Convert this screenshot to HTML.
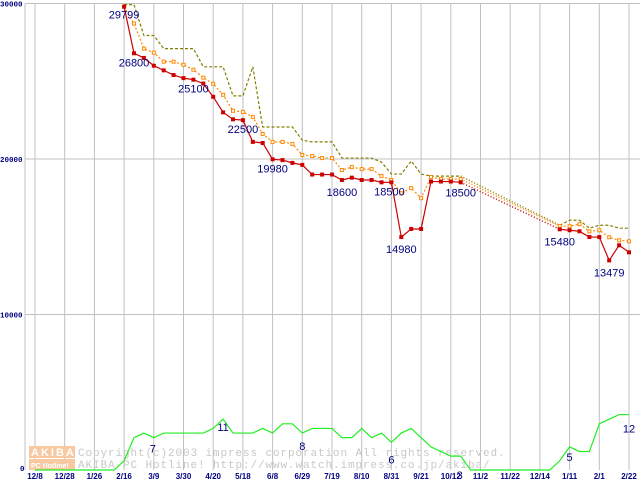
<!DOCTYPE html>
<html><head><meta charset="utf-8"><style>
html,body{margin:0;padding:0;background:#fff;}
svg{display:block;font-family:"Liberation Sans",sans-serif;}
</style></head><body>
<svg id="chart" width="640" height="480" viewBox="0 0 640 480" xmlns="http://www.w3.org/2000/svg">
<rect x="0" y="0" width="640" height="480" fill="#fff"/>
<g id="grid"></g>
<g id="watermark">
  <rect x="29" y="446" width="46" height="12" fill="#f8c8a0"/>
  <rect x="29" y="459" width="46" height="11" fill="#f8c8a0"/>
  <text x="31" y="456" font-size="11" fill="#fff" font-weight="bold" letter-spacing="2">AKIBA</text>
  <text x="31" y="468" font-size="7" fill="#fff" font-weight="bold">PC Hotline!</text>
  <text x="78" y="456" font-size="11" fill="#c8c8c8" font-family="Liberation Mono, monospace" letter-spacing="0.9">Copyright(c)2003 impress corporation All rights reserved.</text>
  <text x="78" y="468" font-size="11" fill="#c8c8c8" font-family="Liberation Mono, monospace" letter-spacing="0.9">AKIBA PC Hotline!  http://www.watch.impress.co.jp/akiba/</text>
</g>
<g id="series"></g>
<g id="labels"></g>
</svg>
<script>
const xTickLabels = ["12/8","12/28","1/26","2/16","3/9","3/30","4/20","5/18","6/8","6/29","7/19","8/10","8/31","9/21","10/12","11/2","11/22","12/14","1/11","2/1","2/22"];
const yTickValues = [0,10000,20000,30000];
const yTickLabels = ["0","10000","20000","30000"];
const redStart = 9;
const redValues = [29799,26800,26500,26000,25700,25400,25200,25100,24850,24000,23000,22550,22500,21100,21030,19980,19930,19750,19620,19000,19000,19000,18650,18800,18650,18650,18500,18500,14980,15500,15500,18550,18550,18550,18500,null,null,null,null,null,null,null,null,null,15480,15420,15350,14980,14980,13479,14450,14000];
const orangeValues = [29799,28710,27100,26840,26260,26260,26060,25740,25230,24840,24130,23100,23030,22710,21610,21100,21100,20970,20260,20190,20060,20060,19290,19480,19350,19350,18900,18650,17800,18130,17480,18840,18710,18710,18710,null,null,null,null,null,null,null,null,null,15680,15680,15810,15350,15420,14970,14770,14710];
const oliveValues = [29930,29930,27940,27940,27100,27100,27100,27100,25930,25930,25930,24060,24060,25930,22060,22060,22060,22060,21200,21100,21100,21100,20060,20060,20060,20060,19800,19030,19030,19870,19030,18900,18900,18900,18900,null,null,null,null,null,null,null,null,null,15740,16060,16060,15550,15740,15740,15550,15550];
const countValues = [0,0,0,0,0,0,0,0,0,2,7,8,7,8,8,8,8,8,9,11,8,8,8,9,8,10,10,8,9,9,9,7,7,9,7,8,6,8,9,7,5,4,3,3,0,0,0,0,0,0,0,0,0,2,5,4,4,10,11,12,12];
const priceLabels = [[9,29799,"29799",0,8],[10,26800,"26800",0,9],[16,25100,"25100",0,9],[21,22500,"22500",0,9],[24,19980,"19980",0,9],[31,18600,"18600",0,11],[36,18500,"18500",-2,9],[37,14980,"14980",0,12],[43,18500,"18500",0,10],[53,15480,"15480",0,12],[58,13479,"13479",0,12]];
const countLabels = [[12,7,"7",-1,11],[19,11,"11",0,8],[27,8,"8",0,13],[36,6,"6",0,17],[43,3,"3",-1,19],[54,5,"5",0,10],[60,12,"12",0,14]];

const NS="http://www.w3.org/2000/svg";
const X0=35, WK=9.9, Y0=470, PY=0.01555, CY=4.62;
const xs=w=>X0+w*WK, yp=v=>Y0-v*PY, yc=v=>Y0-v*CY;
function mk(tag,attrs,parent){const e=document.createElementNS(NS,tag);for(const k in attrs){if(attrs[k]!=null)e.setAttribute(k,attrs[k]);}parent.appendChild(e);return e;}
const grid=document.getElementById('grid'), ser=document.getElementById('series'), lab=document.getElementById('labels');
const yTop=yp(30000);
const frame=mk('line',{x1:25,y1:yTop,x2:25,y2:Y0,stroke:'#c0c0c0'},grid);


xTickLabels.forEach((t,i)=>{
  const x=xs(i*3);
  const l=mk('line',{x1:x,y1:yTop,x2:x,y2:Y0,stroke:'#c0c0c0'},grid);
  
  
  const tx=mk('text',{x:x,y:479,'font-size':8,'font-weight':'bold',fill:'#000080','text-anchor':'middle'},grid);
  tx.textContent=t;
  
  
});
yTickValues.forEach((v,i)=>{
  const y=yp(v);
  if(v>0){const l=mk('line',{x1:25,y1:y,x2:640,y2:y,stroke:'#c0c0c0'},grid);
  
  }
  const tx=mk('text',{x:v===0?20:0,y:v===0?y+1:y+3,'font-size':7.5,'font-weight':'bold',fill:'#000080','font-family':'Liberation Mono, monospace'},grid);
  tx.textContent=yTickLabels[i];
  
  
});
const pts=countValues.map((v,w)=>xs(w)+','+yc(v)).join(' ');
const cl=mk('polyline',{points:pts,fill:'none',stroke:'#22ee22','stroke-width':1.2},ser);


function drawSeries(vals,color,dash,name,marker){
  const segs=[];let cur=[];
  vals.forEach((v,i)=>{if(v==null){if(cur.length)segs.push(cur);cur=[];}else cur.push([xs(redStart+i),yp(v)]);});
  if(cur.length)segs.push(cur);
  segs.forEach(s=>{
    const p=mk('polyline',{points:s.map(q=>q.join(',')).join(' '),fill:'none',stroke:color,'stroke-width':1.2,'stroke-dasharray':dash},ser);
    
    
  });
  for(let i=0;i<segs.length-1;i++){
    const a=segs[i][segs[i].length-1],b=segs[i+1][0];
    const g=mk('line',{x1:a[0],y1:a[1],x2:b[0],y2:b[1],stroke:color,'stroke-width':1.5,'stroke-dasharray':'1,2'},ser);
    
    
  }
  if(marker){segs.forEach(s=>s.forEach(q=>{
    const r=mk('rect',{x:q[0]-1.5,y:q[1]-1.5,width:3,height:3,fill:marker==='fill'?color:'#fff',stroke:color,'stroke-width':1},ser);
    
    
  }));}
}
drawSeries(oliveValues,'#808000','3,2','max-price',null);
drawSeries(orangeValues,'#ff8800','2,2','avg-price','hollow');
drawSeries(redValues,'#cc0000',null,'min-price','fill');
priceLabels.forEach(l=>{
  const t=mk('text',{x:xs(l[0])+l[3],y:yp(l[1])+l[4]+4,'font-size':11,fill:'#000080','text-anchor':'middle'},lab);
  t.textContent=l[2];
  
  
});
countLabels.forEach(l=>{
  const t=mk('text',{x:xs(l[0])+l[3],y:yc(l[1])+l[4]+4,'font-size':11,fill:'#000080','text-anchor':'middle'},lab);
  t.textContent=l[2];
  
  
});
</script>
</body></html>
